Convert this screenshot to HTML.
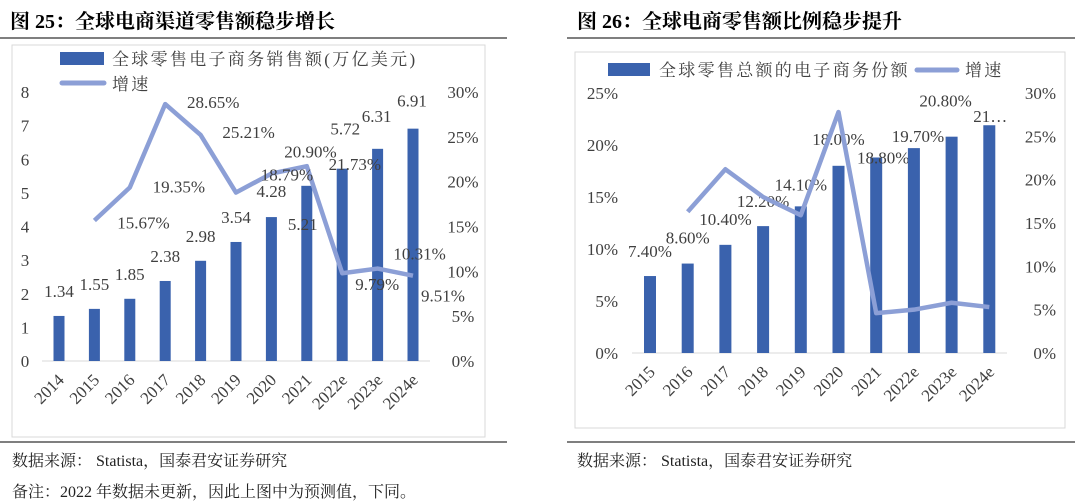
<!DOCTYPE html>
<html><head><meta charset="utf-8"><style>
body{margin:0;background:#fff;width:1080px;height:504px;overflow:hidden}
svg{display:block}
.t{font-family:"Liberation Serif","Noto Serif CJK SC",serif;fill:#404040;font-size:17px}
.lg{letter-spacing:2.3px}
.h{font-family:"Liberation Serif","Noto Serif CJK SC",serif;font-weight:bold;font-size:20px;fill:#000}
.f{font-family:"Liberation Serif","Noto Serif CJK SC",serif;font-size:16px;fill:#222}
</style></head><body>
<svg id="s" width="1080" height="504">
<text class="h" x="10" y="28">图 25：全球电商渠道零售额稳步增长</text>
<text class="h" x="577" y="28">图 26：全球电商零售额比例稳步提升</text>
<line x1="0" y1="38" x2="507" y2="38" stroke="#555" stroke-width="1.5"/>
<line x1="567" y1="38" x2="1075" y2="38" stroke="#555" stroke-width="1.5"/>
<line x1="0" y1="442" x2="507" y2="442" stroke="#555" stroke-width="1.5"/>
<line x1="567" y1="442" x2="1075" y2="442" stroke="#555" stroke-width="1.5"/>
<text class="f" x="12" y="466">数据来源：  Statista，国泰君安证券研究</text>
<text class="f" x="577" y="466">数据来源：  Statista，国泰君安证券研究</text>
<text class="f" x="12" y="497">备注：2022 年数据未更新，因此上图中为预测值，下同。</text>
<rect x="12" y="45" width="473" height="392" fill="none" stroke="#d9d9d9"/>
<rect x="575" y="52" width="490" height="376" fill="none" stroke="#d9d9d9"/>
<g id="c1"></g><g id="c2"></g>
</svg>
<script>
const cats1=["2014","2015","2016","2017","2018","2019","2020","2021","2022e","2023e","2024e"];
const sales1=[1.34,1.55,1.85,2.38,2.98,3.54,4.28,5.21,5.72,6.31,6.91];
const growth1=[null,15.67,19.35,28.65,25.21,18.79,20.90,21.73,9.79,10.31,9.51];
const leftTicks1=[0,1,2,3,4,5,6,7,8];
const rightTicks1=[0,5,10,15,20,25,30];

const cats2=["2015","2016","2017","2018","2019","2020","2021","2022e","2023e","2024e"];
const share2=[7.4,8.6,10.4,12.2,14.1,18.0,18.8,19.7,20.8,21.9];
const growth2=[null,16.3,21.2,18.0,15.9,27.8,4.6,5.0,5.8,5.3];
const leftTicks2=[0,5,10,15,20,25];
const rightTicks2=[0,5,10,15,20,25,30];

const NS="http://www.w3.org/2000/svg";
function mk(p,tag,at){const e=document.createElementNS(NS,tag);for(const k in at)e.setAttribute(k,at[k]);p.appendChild(e);return e;}
function txt(p,x,y,s,anchor){const e=mk(p,'text',{x:x,y:y,'class':'t','text-anchor':anchor||'middle'});e.textContent=s;return e;}

// chart 1
(function(){
const g=document.getElementById('c1');
const y0=361,yTop=92,x0=59,dx=35.4;
const yL=v=>y0-(v/8)*(y0-yTop);
const yR=v=>y0-(v/30)*(y0-yTop);
const xC=i=>x0+i*dx;
let e=mk(g,'rect',{x:60,y:52,width:44,height:13,fill:'#3a62ad'});

e=txt(g,112,65,'全球零售电子商务销售额(万亿美元)','start');e.setAttribute('class','t lg');

e=mk(g,'line',{x1:62,y1:83,x2:104,y2:83,stroke:'#8c9fd6','stroke-width':5,'stroke-linecap':'round'});

e=txt(g,112,90,'增速','start');e.setAttribute('class','t lg');

leftTicks1.forEach(v=>{const t=txt(g,25,yL(v)+6,String(v));
});
rightTicks1.forEach(v=>{const t=txt(g,463,yR(v)+6,v+'%');
});
e=mk(g,'line',{x1:42,y1:y0,x2:430,y2:y0,stroke:'#d9d9d9'});

const bl=[[0,-19],[0,-19],[0,-19],[0,-19],[0,-19],[0,-19],[0,-20],[-4,44],[3,-34],[-1,-27],[-1,-22]];
sales1.forEach((v,i)=>{
 const b=mk(g,'rect',{x:xC(i)-5.5,y:yL(v),width:11,height:y0-yL(v),fill:'#3a62ad'});
 
 const l=txt(g,xC(i)+bl[i][0],yL(v)+bl[i][1],v.toFixed(2));
 
 const c=txt(g,0,0,cats1[i],'end');c.setAttribute('transform',`translate(${xC(i)+6},${y0+20}) rotate(-45)`);
 
});
let d='';growth1.forEach((v,i)=>{if(v==null)return;d+=(d?'L':'M')+xC(i)+','+yR(v);});
e=mk(g,'path',{d:d,fill:'none',stroke:'#8c9fd6','stroke-width':4.5,'stroke-linejoin':'round'});

const gl=[[0,0],[49,8],[49,5],[48,4],[48,3],[51,-12],[39,-16],[48,4],[35,17],[42,-9],[30,26]];
growth1.forEach((v,i)=>{if(v==null)return;const t=txt(g,xC(i)+gl[i][0],yR(v)+gl[i][1],v.toFixed(2)+'%');
 });
})();

// chart 2
(function(){
const g=document.getElementById('c2');
const y0=353,yTop=93,x0=650,dx=37.7;
const yL=v=>y0-(v/25)*(y0-yTop);
const yR=v=>y0-(v/30)*(y0-yTop);
const xC=i=>x0+i*dx;
let e=mk(g,'rect',{x:608,y:63,width:42,height:13,fill:'#3a62ad'});

e=txt(g,659,76,'全球零售总额的电子商务份额','start');e.setAttribute('class','t lg');

e=mk(g,'line',{x1:917,y1:70,x2:957,y2:70,stroke:'#8c9fd6','stroke-width':5,'stroke-linecap':'round'});

e=txt(g,965,76,'增速','start');e.setAttribute('class','t lg');

leftTicks2.forEach(v=>{const t=txt(g,618,yL(v)+6,v+'%','end');
});
rightTicks2.forEach(v=>{const t=txt(g,1056,yR(v)+6,v+'%','end');
});
e=mk(g,'line',{x1:632,y1:y0,x2:1007,y2:y0,stroke:'#d9d9d9'});

const bl=[[0,-19],[0,-20],[0,-20],[0,-19],[0,-16],[0,-21],[7,6],[4,-6],[-6,-30],[1,-3]];
share2.forEach((v,i)=>{
 const b=mk(g,'rect',{x:xC(i)-6,y:yL(v),width:12,height:y0-yL(v),fill:'#3a62ad'});
 
 const s=i==9?'21…':v.toFixed(2)+'%';
 const l=txt(g,xC(i)+bl[i][0],yL(v)+bl[i][1],s);
 
 const c=txt(g,0,0,cats2[i],'end');c.setAttribute('transform',`translate(${xC(i)+6},${y0+20}) rotate(-45)`);
 
});
let d='';growth2.forEach((v,i)=>{if(v==null)return;d+=(d?'L':'M')+xC(i)+','+yR(v);});
e=mk(g,'path',{d:d,fill:'none',stroke:'#8c9fd6','stroke-width':4.5,'stroke-linejoin':'round'});

})();
</script>
</body></html>
